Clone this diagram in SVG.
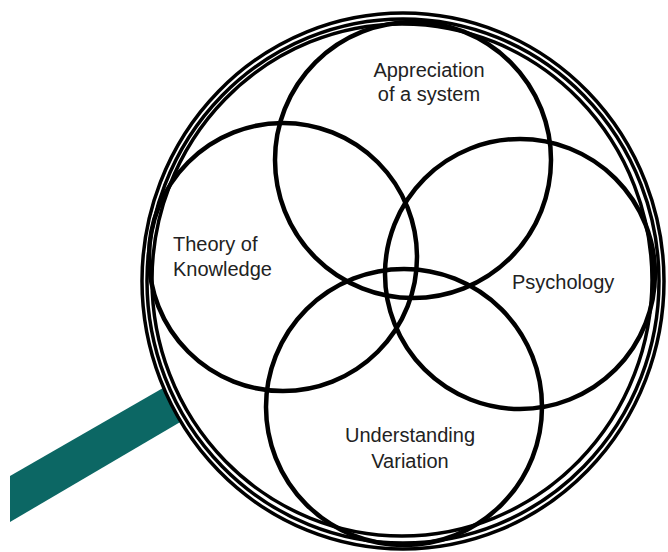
<svg xmlns="http://www.w3.org/2000/svg" width="668" height="552" viewBox="0 0 668 552">
<style>
.ring{fill:none;stroke:#000;stroke-width:3.5}
.c{fill:none;stroke:#000;stroke-width:4.5}
.t{font-family:"Liberation Sans",Arial,sans-serif;font-size:20px;fill:#222}
</style>
<rect width="668" height="552" fill="#fff"/>
<g id="handle"><polygon points="163,388 182,421 10,522 10,476" fill="#0c6764"/></g>
<g id="lens">
<ellipse class="ring" cx="403" cy="281" rx="261" ry="268"/>
<ellipse class="ring" cx="403" cy="281" rx="256" ry="262"/>
<ellipse class="ring" cx="402" cy="280" rx="250" ry="256"/>
</g>
<g id="appreciation"><circle class="c" cx="413" cy="160" r="138"/>
<text class="t" text-anchor="middle" x="429" y="77">Appreciation</text>
<text class="t" text-anchor="middle" x="429" y="101">of a system</text></g>
<g id="theory"><circle class="c" cx="283" cy="257" r="134"/>
<text class="t" x="173" y="251">Theory of</text>
<text class="t" x="173" y="276">Knowledge</text></g>
<g id="psychology"><circle class="c" cx="520" cy="274" r="135"/>
<text class="t" x="512" y="289">Psychology</text></g>
<g id="variation"><circle class="c" cx="404" cy="407" r="138"/>
<text class="t" text-anchor="middle" x="410" y="442">Understanding</text>
<text class="t" text-anchor="middle" x="410" y="468">Variation</text></g>
<g id="connectors"></g>
</svg>
